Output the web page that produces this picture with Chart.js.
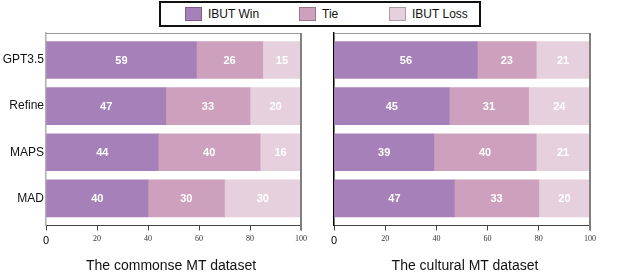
<!DOCTYPE html>
<html>
<head>
<meta charset="utf-8">
<script src="https://cdn.jsdelivr.net/npm/chart.js@4.4.1/dist/chart.umd.min.js"></script>
<style>
  body { margin: 0; width: 623px; height: 278px; position: relative; background: #fff; overflow: hidden;
         font-family: "Liberation Sans", Arial, sans-serif; }
  .pane { position: absolute; top: 0; }
  #legend { position: absolute; left: 159px; top: 1px; width: 318px; height: 22px; border: 2px solid #111; }
  .item { position: absolute; top: 0; height: 22px; line-height: 22px; font-size: 12px; color: #111; }
  .sw { position: absolute; top: 4px; width: 15px; height: 12px; border: 1px solid rgba(0,0,0,0.25); }
  .item span { position: absolute; white-space: nowrap; }
  .title { position: absolute; top: 257px; font-size: 14px; color: #111; white-space: nowrap; transform: translateX(-50%); }
</style>
</head>
<body>
<div id="legend"></div>
<div class="pane" style="left:0"><canvas id="common" width="312" height="278"></canvas></div>
<div class="pane" style="left:300px"><canvas id="cultural" width="300" height="278"></canvas></div>
<div class="title" style="left:171px">The commonse MT dataset</div>
<div class="title" style="left:465px">The cultural MT dataset</div>
<script>
const models = ['GPT3.5', 'Refine', 'MAPS', 'MAD'];
const seriesNames = ['IBUT Win', 'Tie', 'IBUT Loss'];
const seriesColors = ['#a680b9', '#cda1bd', '#e6d0de'];

const commonWin = [59, 47, 44, 40];
const commonTie = [26, 33, 40, 30];
const commonLoss = [15, 20, 16, 30];

const culturalWin = [56, 45, 39, 47];
const culturalTie = [23, 31, 40, 33];
const culturalLoss = [21, 24, 21, 20];

const xTicks = [0, 20, 40, 60, 80, 100];

// legend (html, shared by both panels)
const legendPos = [[24, 47], [138, 161], [228, 251]];
const legend = document.getElementById('legend');
seriesNames.forEach((name, i) => {
  const it = document.createElement('div');
  it.className = 'item';
  it.innerHTML = '<div class="sw" style="left:' + legendPos[i][0] + 'px;background:' + seriesColors[i] + '"></div>' +
    '<span style="left:' + legendPos[i][1] + 'px">' + name + '</span>';
  legend.appendChild(it);
});

const barLabels = {
  id: 'barLabels',
  afterDatasetsDraw(chart) {
    const ctx = chart.ctx;
    ctx.save();
    ctx.fillStyle = '#fff';
    ctx.font = 'bold 11px "Liberation Sans", Arial, sans-serif';
    ctx.textAlign = 'center';
    ctx.textBaseline = 'middle';
    chart.data.datasets.forEach((ds, di) => {
      chart.getDatasetMeta(di).data.forEach((bar, i) => {
        const p = bar.getCenterPoint();
        ctx.fillText(String(ds.data[i].x), p.x, p.y + 1);
      });
    });
    ctx.restore();
  }
};

const frame = {
  id: 'frame',
  afterDraw(chart) {
    const a = chart.chartArea;
    const ctx = chart.ctx;
    ctx.save();
    ctx.strokeStyle = '#9a9a9a';
    ctx.lineWidth = 1;
    ctx.beginPath();
    ctx.moveTo(a.left, a.top + 0.5);
    ctx.lineTo(a.right, a.top + 0.5);
    ctx.stroke();
    ctx.strokeStyle = '#808080';
    ctx.lineWidth = 2;
    ctx.beginPath();
    ctx.moveTo(a.right, a.top);
    ctx.lineTo(a.right, a.bottom + 5);
    ctx.stroke();
    ctx.restore();
  }
};

function makeChart(id, win, tie, loss, opts) {
  const series = [win, tie, loss];
  return new Chart(document.getElementById(id), {
    type: 'bar',
    data: {
      datasets: series.map((vals, s) => ({
        label: seriesNames[s],
        data: vals.map((v, i) => ({ x: v, y: i })),
        backgroundColor: seriesColors[s],
        borderWidth: 0,
        grouped: false,
        stack: 'all',
        barThickness: 37
      }))
    },
    options: {
      indexAxis: 'y',
      responsive: false,
      animation: false,
      layout: { padding: { top: 33, right: opts.right, left: 0, bottom: 0 } },
      plugins: { legend: { display: false }, tooltip: { enabled: false } },
      scales: {
        x: {
          type: 'linear',
          stacked: true,
          min: 0,
          max: 100,
          afterBuildTicks: (scale) => { scale.ticks = xTicks.map(v => ({ value: v })); },
          afterFit: (scale) => { scale.height = 52.5; },
          grid: { drawOnChartArea: false, tickLength: 5, color: '#444', lineWidth: 1 },
          border: { color: '#444', width: 1 },
          ticks: {
            padding: 4,
            color: (c) => c.tick && c.tick.value === 0 ? '#000' : '#333',
            font: (c) => c.tick && c.tick.value === 0
              ? { family: '"Liberation Sans", Arial, sans-serif', size: 11 }
              : { family: '"Liberation Serif", "Times New Roman", serif', size: 8 }
          }
        },
        y: {
          type: 'linear',
          offset: false,
          reverse: true,
          min: -0.586,
          max: 3.59,
          afterFit: (scale) => { scale.width = opts.yWidth; },
          grid: { display: true, offset: false, drawOnChartArea: false, drawTicks: false, color: 'rgba(0,0,0,0)' },
          border: { color: opts.yBorder, width: 1.5 },
          ticks: {
            display: opts.showLabels,
            stepSize: 1,
            includeBounds: false,
            autoSkip: false,
            padding: 2,
            color: '#111',
            font: { family: '"Liberation Sans", Arial, sans-serif', size: 12 },
            callback: (v) => Number.isInteger(v) && models[v] !== undefined ? models[v] : ''
          }
        }
      }
    },
    plugins: [barLabels, frame]
  });
}

makeChart('common', commonWin, commonTie, commonLoss, { right: 11, yWidth: 46, yBorder: '#b0b0b0', showLabels: true });
makeChart('cultural', culturalWin, culturalTie, culturalLoss, { right: 10, yWidth: 34, yBorder: '#000', showLabels: false });
</script>
</body>
</html>
